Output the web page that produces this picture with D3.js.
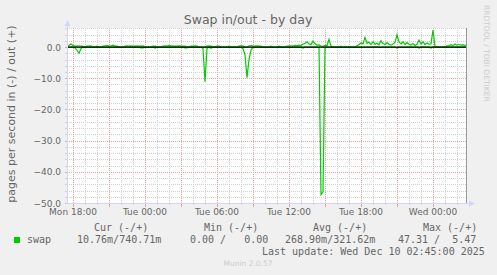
<!DOCTYPE html>
<html>
<head>
<meta charset="utf-8">
<script src="https://cdn.jsdelivr.net/npm/d3@7"></script>
<style>
    body { margin: 0; background: #f0f0f0; }
    svg { display: block; font-family: "DejaVu Sans", sans-serif; }
</style>
</head>
<body>
<svg id="chart" width="497" height="275"></svg>
<script>

// Data: one sample every 10 minutes, starting Mon Dec 8 2025 17:30
const START = new Date(2025, 11, 8, 17, 30);
const STEP_MINUTES = 10;

// swap out (+), pages per second
const swapOut = [
    0.3, 0.5, 1.0, 0.5, 0.3, 0.3, 0.4, 0.3, 0.2, 0,
    0.3, 0.3, 0.4, 0, 0, 0.3, 0, 0, 0.3, 0.4,
    0.5, 0.3, 0.4, 0.6, 0.3, 0.3, 0, 0, 0, 0.3,
    0.4, 0.3, 0.4, 0.3, 0.3, 0.4, 0.3, 0.3, 0.4, 0,
    0, 0, 0, 0.3, 0.3, 0, 0, 0, 0.3, 0.4,
    0.3, 0.5, 0.3, 0.4, 0.3, 0.3, 0.4, 0.3, 0.3, 0.3,
    0, 0, 0.3, 0.3, 0.4, 0.3, 0, 0, 0, 0,
    0.3, 0.4, 0.3, 0, 0, 0.3, 0.3, 0, 0, 0,
    0, 0.3, 0, 0, 0, 0, 0.3, 0.4, 0.3, 0,
    0, 0.3, 0.5, 0.3, 0.3, 0.4, 0.3, 0.3, 0, 0,
    0, 0, 0.3, 0, 0, 0, 0.3, 0, 0, 0,
    0.3, 0.3, 0.4, 0.3, 0.5, 0.4, 0.6, 0.5, 0.9, 1.2,
    1.7, 1.0, 0.8, 1.9, 1.1, 0.6, 0.7, 0.3, 0.2, 0.5,
    0.4, 2.5, 0.3, 0, 0, 0, 0, 0.3, 0, 0,
    0, 0, 0, 0, 0, 0.4, 0.8, 1.3, 1.0, 3.1,
    1.2, 1.6, 0.8, 1.7, 0.9, 1.2, 0.7, 2.0, 1.1, 0.8,
    1.4, 0.9, 0.6, 1.0, 1.5, 3.9, 1.6, 1.0, 1.7, 0.8,
    1.4, 0.9, 0.6, 1.1, 0.5, 0.9, 2.2, 1.0, 1.7, 0.8,
    1.3, 0.9, 1.0, 5.47, 0.2, 0, 0, 0, 0, 0,
    0.4, 0.5, 0.7, 0.5, 1.0, 0.6, 0.8, 0.6, 0.7, 0.5, 0.9
];

// swap in (-), pages per second (drawn below zero)
const swapIn = [
    0, 0, 0, 0, 0.3, 1.0, 2.0, 0.5, 0, 0,
    0, 0, 0, 0, 0, 0, 0, 0, 0, 0,
    0, 0, 0, 0, 0, 0, 0, 0, 0, 0,
    0, 0, 0, 0, 0, 0, 0, 0.3, 0.3, 0,
    0, 0, 0, 0, 0.3, 0, 0, 0, 0, 0,
    0, 0, 0, 0, 0, 0, 0, 0, 0, 0.3,
    0.3, 0, 0, 0, 0, 0, 0, 0, 0.5, 11.1,
    0.5, 0, 0.4, 0, 0, 0, 0, 0, 0, 0,
    0, 0, 0, 0, 0, 0, 0, 0, 0.5, 2.5,
    9.8, 4.0, 1.0, 0, 0, 0, 0, 0, 0, 0,
    0, 0, 0, 0, 0, 0, 0, 0, 0, 0,
    0, 0, 0, 0, 0, 0, 0, 0, 0.3, 0,
    0, 0, 0, 0, 0, 0, 0, 47.31, 46.5, 0,
    0, 0, 0, 0, 0, 0, 0, 0, 0, 0,
    0, 0, 0, 0, 0, 0, 0, 0, 0, 0,
    0, 0, 0, 0, 0, 0, 0, 0, 0, 0,
    0, 0, 0, 0, 0, 0.3, 0, 0, 0, 0,
    0, 0, 0, 0, 0, 0, 0.3, 0, 0, 0,
    0, 0, 0.3, 0, 0, 0, 0, 0, 0, 0,
    0, 0, 0, 0, 0, 0, 0, 0, 0, 0, 0
];

const yTicks = [-50, -40, -30, -20, -10, 0];
const legendHeaders = ['Cur (-/+)', 'Min (-/+)', 'Avg (-/+)', 'Max (-/+)'];
const legendValues = ['10.76m/740.71m', '0.00 /   0.00', '268.90m/321.62m', '47.31 /  5.47'];
const seriesName = 'swap';
const lastUpdate = 'Last update: Wed Dec 10 02:45:00 2025';

// Layout
const PLOT = { left: 67, top: 28, right: 467, bottom: 203 };
const FONT_COLOR = '#666666';
const AXIS_COLOR = '#cfd6f8';
const LINE_COLOR = '#00cc00';

const svg = d3.select('#chart');

const times = swapOut.map((d, i) => d3.timeMinute.offset(START, i * STEP_MINUTES));

const x = d3.scaleTime()
    .domain([times[0], times[times.length - 1]])
    .range([PLOT.left, PLOT.right]);

const y = d3.scaleLinear()
    .domain([-50, 6.1])
    .range([PLOT.bottom, PLOT.top]);

// keep runs of spaces in the monospace legend
const nbsp = (s) => s.replace(/ /g, '\u00a0');

// Canvas
svg.append('rect')
    .attr('x', PLOT.left).attr('y', PLOT.top)
    .attr('width', PLOT.right - PLOT.left).attr('height', PLOT.bottom - PLOT.top)
    .attr('fill', '#ffffff');

// Grid
const grid = svg.append('g').attr('shape-rendering', 'crispEdges');
const minorH = d3.range(-50, 7, 2);
const minorV = x.ticks(d3.timeHour.every(1));
const majorV = x.ticks(d3.timeHour.every(3));

grid.selectAll('.minor-h').data(minorH).enter()
    .append('line')
        .attr('x1', PLOT.left).attr('x2', PLOT.right)
        .attr('y1', (d) => Math.round(y(d)) + 0.5).attr('y2', (d) => Math.round(y(d)) + 0.5)
        .attr('stroke', '#d0d0d0').attr('stroke-dasharray', '1,1');

grid.selectAll('.minor-v').data(minorV).enter()
    .append('line')
        .attr('x1', (d) => Math.round(x(d)) + 0.5).attr('x2', (d) => Math.round(x(d)) + 0.5)
        .attr('y1', PLOT.top).attr('y2', PLOT.bottom)
        .attr('stroke', '#d0d0d0').attr('stroke-dasharray', '1,1');

grid.selectAll('.major-h').data(yTicks).enter()
    .append('line')
        .attr('x1', PLOT.left).attr('x2', PLOT.right)
        .attr('y1', (d) => Math.round(y(d)) + 0.5).attr('y2', (d) => Math.round(y(d)) + 0.5)
        .attr('stroke', '#eea0a0').attr('stroke-dasharray', '1,1');

grid.selectAll('.major-v').data(majorV).enter()
    .append('line')
        .attr('x1', (d) => Math.round(x(d)) + 0.5).attr('x2', (d) => Math.round(x(d)) + 0.5)
        .attr('y1', PLOT.top).attr('y2', PLOT.bottom)
        .attr('stroke', '#eea0a0').attr('stroke-dasharray', '1,1');

// Tick marks outside the canvas
grid.selectAll('.tick-x').data(minorV).enter()
    .append('line')
        .attr('x1', (d) => Math.round(x(d)) + 0.5).attr('x2', (d) => Math.round(x(d)) + 0.5)
        .attr('y1', PLOT.bottom).attr('y2', (d) => PLOT.bottom + (d.getHours() % 3 === 0 ? 4 : 2))
        .attr('stroke', (d) => d.getHours() % 3 === 0 ? '#eea0a0' : '#d0d0d0');

grid.selectAll('.tick-y').data(minorH).enter()
    .append('line')
        .attr('x1', PLOT.left - 2).attr('x2', PLOT.left)
        .attr('y1', (d) => Math.round(y(d)) + 0.5).attr('y2', (d) => Math.round(y(d)) + 0.5)
        .attr('stroke', (d) => d % 10 === 0 ? '#eea0a0' : '#d0d0d0');

// Series
const outLine = d3.line()
    .x((d, i) => x(times[i]))
    .y((d) => y(d));
const inLine = d3.line()
    .x((d, i) => x(times[i]))
    .y((d) => y(-d));

svg.append('path')
    .datum(swapIn)
    .attr('d', inLine)
    .attr('fill', 'none')
    .attr('stroke', LINE_COLOR)
    .attr('stroke-width', 1.2);

svg.append('path')
    .datum(swapOut)
    .attr('d', outLine)
    .attr('fill', 'none')
    .attr('stroke', LINE_COLOR)
    .attr('stroke-width', 1.2);

// Zero line and right rule
svg.append('line')
    .attr('x1', PLOT.left).attr('x2', PLOT.right)
    .attr('y1', y(0)).attr('y2', y(0))
    .attr('stroke', '#000000').attr('stroke-width', 1.2);

svg.append('line')
    .attr('x1', PLOT.right - 0.5).attr('x2', PLOT.right - 0.5)
    .attr('y1', PLOT.top).attr('y2', PLOT.bottom)
    .attr('stroke', '#9a9a9a').attr('shape-rendering', 'crispEdges');

// Axes with arrows
const axes = svg.append('g').attr('fill', AXIS_COLOR);
axes.append('line')
    .attr('x1', PLOT.left + 0.5).attr('x2', PLOT.left + 0.5)
    .attr('y1', PLOT.bottom + 1).attr('y2', PLOT.top - 2)
    .attr('stroke', AXIS_COLOR);
axes.append('path')
    .attr('d', `M${PLOT.left - 2.5},${PLOT.top - 2} L${PLOT.left + 3.5},${PLOT.top - 2} L${PLOT.left + 0.5},${PLOT.top - 8} Z`);
axes.append('line')
    .attr('x1', PLOT.left - 1).attr('x2', PLOT.right + 2)
    .attr('y1', PLOT.bottom + 0.5).attr('y2', PLOT.bottom + 0.5)
    .attr('stroke', AXIS_COLOR);
axes.append('path')
    .attr('d', `M${PLOT.right + 2},${PLOT.bottom - 2.5} L${PLOT.right + 2},${PLOT.bottom + 3.5} L${PLOT.right + 8},${PLOT.bottom + 0.5} Z`);

// Tick labels
const fmtTime = d3.timeFormat('%a %H:%M');
svg.append('g').selectAll('text')
    .data(x.ticks(d3.timeHour.every(6)))
    .enter().append('text')
        .attr('x', (d) => x(d))
        .attr('y', PLOT.bottom + 12)
        .attr('text-anchor', 'middle')
        .attr('font-size', 9)
        .attr('fill', FONT_COLOR)
        .text(fmtTime);

svg.append('g').selectAll('text')
    .data(yTicks)
    .enter().append('text')
        .attr('x', PLOT.left - 6)
        .attr('y', (d) => y(d) + 3.5)
        .attr('text-anchor', 'end')
        .attr('font-size', 9)
        .attr('fill', FONT_COLOR)
        .text(d3.format('.1f'));

// Titles
svg.append('text')
    .attr('x', 248).attr('y', 24)
    .attr('text-anchor', 'middle')
    .attr('font-size', 12.5)
    .attr('fill', FONT_COLOR)
    .text('Swap in/out - by day');

svg.append('text')
    .attr('transform', 'translate(15,114) rotate(-90)')
    .attr('text-anchor', 'middle')
    .attr('font-size', 11)
    .attr('fill', FONT_COLOR)
    .text('pages per second in (-) / out (+)');

svg.append('text')
    .attr('transform', 'translate(484,5) rotate(90)')
    .attr('font-size', 7.5)
    .attr('fill', '#cccccc')
    .text('RRDTOOL / TOBI OETIKER');

// Legend
const legend = svg.append('g')
    .attr('font-family', '"DejaVu Sans Mono", monospace')
    .attr('font-size', 10)
    .attr('fill', FONT_COLOR);

const headerX = [94, 204, 313, 423];
const valueX = [77, 190, 285, 398];

legend.selectAll('.hdr').data(legendHeaders).enter()
    .append('text')
        .attr('x', (d, i) => headerX[i]).attr('y', 231)
        .text(nbsp);

legend.append('rect')
    .attr('x', 14).attr('y', 237).attr('width', 6).attr('height', 6)
    .attr('fill', LINE_COLOR);
legend.append('text')
    .attr('x', 27).attr('y', 243)
    .text(seriesName);

legend.selectAll('.val').data(legendValues).enter()
    .append('text')
        .attr('x', (d, i) => valueX[i]).attr('y', 243)
        .text(nbsp);

legend.append('text')
    .attr('x', 262).attr('y', 255)
    .text(nbsp(lastUpdate));

svg.append('text')
    .attr('x', 248).attr('y', 266)
    .attr('text-anchor', 'middle')
    .attr('font-size', 7.5)
    .attr('fill', '#cccccc')
    .text('Munin 2.0.57');

</script>
</body>
</html>
